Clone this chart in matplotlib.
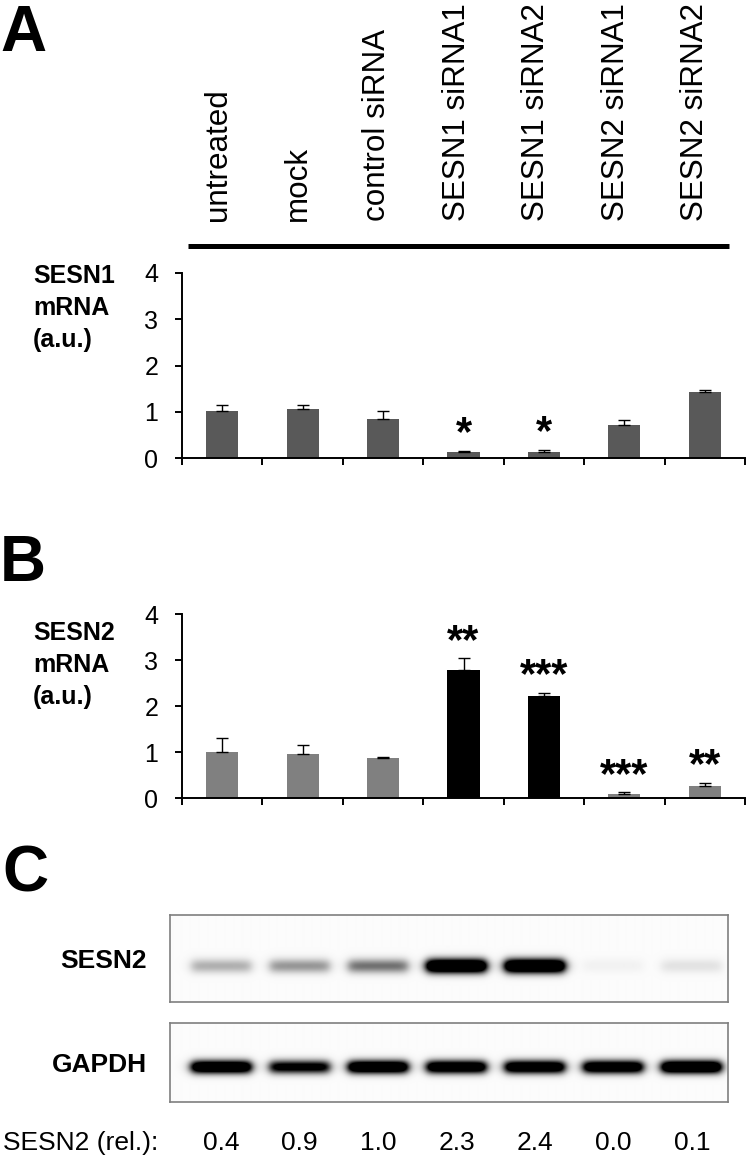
import numpy as np
import matplotlib.pyplot as plt
import matplotlib.transforms as mtransforms

plt.rcParams['font.family'] = ['Liberation Sans', 'DejaVu Sans']

conditions = ['untreated', 'mock', 'control siRNA', 'SESN1 siRNA1',
              'SESN1 siRNA2', 'SESN2 siRNA1', 'SESN2 siRNA2']

# panel A: SESN1 mRNA
sesn1_mrna = [1.01, 1.06, 0.85, 0.14, 0.14, 0.71, 1.42]
sesn1_err = [0.14, 0.08, 0.17, 0.02, 0.04, 0.11, 0.05]
sesn1_stars = ['', '', '', '*', '*', '', '']
sesn1_colors = ['#595959'] * 7

# panel B: SESN2 mRNA
sesn2_mrna = [1.01, 0.96, 0.87, 2.79, 2.23, 0.10, 0.26]
sesn2_err = [0.31, 0.20, 0.02, 0.25, 0.06, 0.03, 0.07]
sesn2_stars = ['', '', '', '**', '***', '***', '**']
sesn2_colors = ['#808080', '#808080', '#808080', '#000000', '#000000', '#808080', '#808080']

# panel C: western blot
sesn2_rel = [0.4, 0.9, 1.0, 2.3, 2.4, 0.0, 0.1]
sesn2_band = [0.30, 0.40, 0.55, 1.8, 1.8, 0.04, 0.10]
gapdh_band = [1.6, 1.2, 1.6, 1.5, 1.5, 1.5, 1.7]

W, H = 748, 1158
fig = plt.figure(figsize=(W / 100, H / 100), dpi=100)


def box(left, top, right, bottom):
    # pixel box -> figure fraction rect
    return [left / W, 1 - bottom / H, (right - left) / W, (bottom - top) / H]


def bar_panel(rect, values, errs, colors, stars, ylabel, label_top):
    ax = fig.add_axes(rect)
    x = np.arange(len(values))
    ax.bar(x, values, width=0.4, color=colors, zorder=2)
    ax.errorbar(x, values, yerr=[np.zeros(len(errs)), errs], fmt='none',
                ecolor='black', elinewidth=1.0, capsize=4, capthick=1.0, zorder=3)
    for i, s in enumerate(stars):
        if s:
            ax.annotate(s, (i, values[i] + errs[i]), xytext=(0, 4),
                        textcoords='offset points', ha='center', va='baseline',
                        fontsize=30, fontweight='bold')
    ax.set_xlim(-0.5, len(values) - 0.5)
    ax.set_ylim(0, 4)
    ax.set_yticks([0, 1, 2, 3, 4])
    ax.set_xticks(np.arange(-0.5, len(values), 1))
    ax.set_xticklabels([])
    for side in ['top', 'right']:
        ax.spines[side].set_visible(False)
    for side in ['left', 'bottom']:
        ax.spines[side].set_linewidth(1.4)
    ax.tick_params(axis='both', direction='out', length=5, width=1.4)
    ax.tick_params(axis='y', pad=12, labelsize=18)
    fig.text(33 / W, 1 - label_top / H, ylabel, ha='left', va='top',
             fontsize=18, fontweight='bold', linespacing=1.42)
    return ax


# panel letters
fig.text(0, 1 - 51 / H, 'A', fontsize=46, fontweight='bold', va='baseline')
fig.text(0, 1 - 581 / H, 'B', fontsize=46, fontweight='bold', va='baseline')
fig.text(2 / W, 1 - 891 / H, 'C', fontsize=46, fontweight='bold', va='baseline')

# condition labels
ax_lab = fig.add_axes(box(178.5, 0, 735, 250))
ax_lab.set_xlim(-0.5, 6.5)
ax_lab.set_ylim(250, 0)
ax_lab.axis('off')
for i, c in enumerate(conditions):
    ax_lab.text(i, 221, c, rotation=90, ha='center', va='bottom', fontsize=22.6)
ax_lab.plot([-0.38, 6.42], [245.5, 245.5], color='black', lw=3.6, solid_capstyle='butt')

bar_panel(box(182, 272.7, 745, 458.3), sesn1_mrna, sesn1_err, sesn1_colors,
          sesn1_stars, 'SESN1\nmRNA\n(a.u.)', 264)
bar_panel(box(182, 614.3, 745, 798.3), sesn2_mrna, sesn2_err, sesn2_colors,
          sesn2_stars, 'SESN2\nmRNA\n(a.u.)', 621)

# western blot strips
xl, xr = -0.65, 6.46


def blot(rect, levels, height_px, center_px, sigma_px, label, label_y):
    ax = fig.add_axes(rect)
    xs = np.linspace(xl, xr, 560)
    ys = np.arange(height_px) + 0.5
    dark = np.zeros((len(ys), len(xs)))
    for i, lv in enumerate(levels):
        bx = 1 / (1 + np.exp((np.abs(xs - i) - 0.38) / 0.035))
        by = np.exp(-((ys - center_px) / sigma_px) ** 2)
        dark += lv * np.outer(by, bx)
    img = 0.985 * (1 - np.clip(dark, 0, 1))
    ax.imshow(img, cmap='gray', vmin=0, vmax=1, aspect='auto',
              extent=(xl, xr, height_px, 0), interpolation='bilinear')
    ax.set_xlim(xl, xr)
    ax.set_ylim(height_px, 0)
    ax.set_xticks([])
    ax.set_yticks([])
    for s in ax.spines.values():
        s.set_edgecolor('#7f7f7f')
        s.set_linewidth(1.2)
    fig.text(147 / W, 1 - label_y / H, label, ha='right', va='center',
             fontsize=19, fontweight='bold')
    return ax


blot(box(170, 915, 728, 1002), sesn2_band, 87, 51, 7, 'SESN2', 961)
ax_g = blot(box(170, 1023, 728, 1102), gapdh_band, 79, 44, 6.5, 'GAPDH', 1065)

trans = mtransforms.blended_transform_factory(ax_g.transData, fig.transFigure)
fig.text(3 / W, 1 - 1150 / H, 'SESN2 (rel.):', ha='left', va='baseline', fontsize=19)
for i, v in enumerate(sesn2_rel):
    ax_g.text(i, 1 - 1150 / H, f'{v:.1f}', transform=trans, ha='center',
              va='baseline', fontsize=19)

fig.savefig('out.png', dpi=100)
